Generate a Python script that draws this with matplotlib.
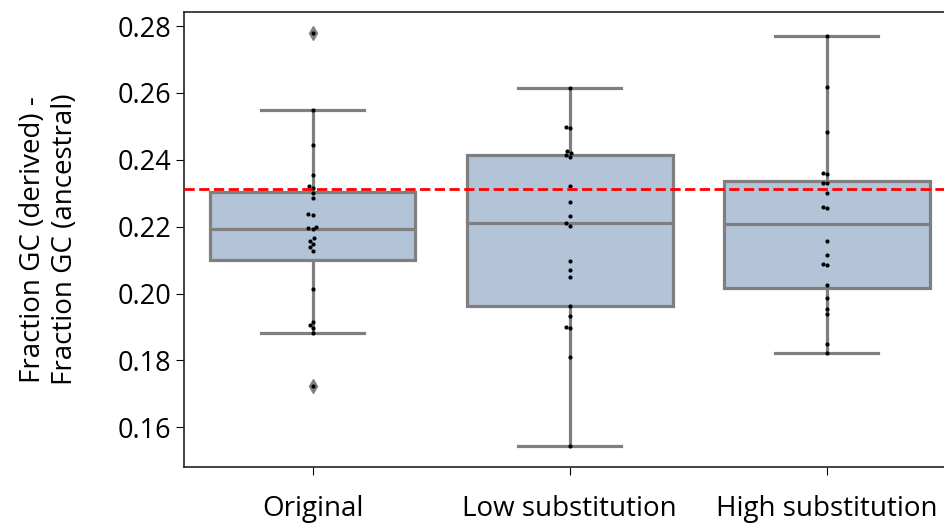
import pandas as pd
import matplotlib
matplotlib.use("Agg")
import matplotlib.pyplot as plt
import seaborn as sns

# ---------- data ----------
groups = ["Original", "Low substitution", "High substitution"]
original = [0.2780, 0.2548, 0.2444, 0.2354, 0.2322, 0.2315, 0.2300, 0.2285,
            0.2238, 0.2235, 0.2198, 0.2195, 0.2192, 0.2165, 0.2158, 0.2148,
            0.2138, 0.2128, 0.2014, 0.1914, 0.1906, 0.1896, 0.1881, 0.1723]
low_sub = [0.2614, 0.2499, 0.2494, 0.2427, 0.2421, 0.2414, 0.2409, 0.2322,
           0.2275, 0.2232, 0.2210, 0.2203, 0.2097, 0.2070, 0.2049, 0.1964,
           0.1934, 0.1901, 0.1898, 0.1809, 0.1544]
high_sub = [0.2770, 0.2618, 0.2484, 0.2362, 0.2358, 0.2331, 0.2331, 0.2301,
            0.2258, 0.2256, 0.2158, 0.2116, 0.2087, 0.2084, 0.2025, 0.1988,
            0.1953, 0.1938, 0.1849, 0.1821]
ref_line = 0.2313
yticks = [0.16, 0.18, 0.20, 0.22, 0.24, 0.26, 0.28]

rows = []
for g, vals in zip(groups, [original, low_sub, high_sub]):
    for v in vals:
        rows.append(dict(group=g, value=v))
df = pd.DataFrame(rows)

plt.rcParams["font.family"] = ["Open Sans", "DejaVu Sans"]

fig = plt.figure(figsize=(9.44, 5.25), dpi=100)
# axes run past the right edge, the reference is cropped there
ax = fig.add_axes([0.1949, 0.1105, 0.8173, 0.8665])

sns.boxplot(data=df, x="group", y="value", order=groups, ax=ax,
            color="#b3c3d8", saturation=1, width=0.8, linewidth=2.3,
            linecolor="#7f7f7f",
            flierprops=dict(marker="d", markersize=7, markerfacecolor="#808080",
                            markeredgecolor="#808080"))
sns.swarmplot(data=df, x="group", y="value", order=groups, ax=ax,
              color="black", size=3)
ax.axhline(ref_line, color="red", ls="--", lw=2, zorder=5)

ax.set_xlim(-0.5, 2.5)
ax.set_ylim(0.1481, 0.2842)
ax.set_yticks(yticks)
ax.set_yticklabels([f"{t:.2f}" for t in yticks])
ax.tick_params(axis="y", labelsize=19.5, length=6, pad=3)
ax.tick_params(axis="x", labelsize=20, length=6, pad=14)
ax.set_xlabel("")
ax.set_ylabel("Fraction GC (derived) -\nFraction GC (ancestral)", fontsize=20,
              labelpad=28, linespacing=1.2)
for s in ax.spines.values():
    s.set_color("#222222")
    s.set_linewidth(1.2)

fig.savefig("out.png", dpi=100)
